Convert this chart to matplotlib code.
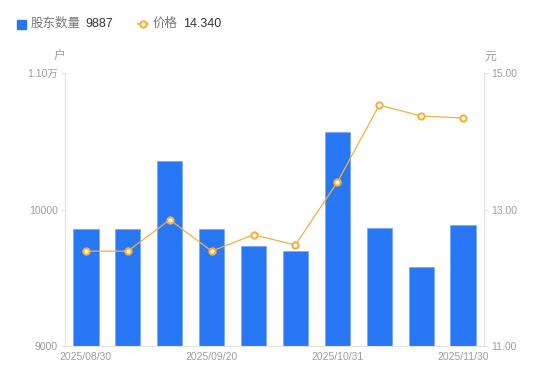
import matplotlib
matplotlib.use("Agg")
import matplotlib.pyplot as plt
from matplotlib.lines import Line2D
from matplotlib.patches import Rectangle

plt.rcParams["font.family"] = ["Liberation Sans", "Noto Sans CJK SC", "DejaVu Sans"]

# ── Dados ─────────────────────────────────────────────────────────────────────
datas = ["2025/08/30", "", "", "2025/09/20", "", "", "2025/10/31", "", "", "2025/11/30"]
acionistas = [9857, 9857, 10355, 9857, 9733, 9696, 10568, 9864, 9579, 9887]
precos = [12.39, 12.39, 12.85, 12.39, 12.63, 12.48, 13.40, 14.53, 14.37, 14.34]

COLORS = {
    "bar": "#2878f5",
    "line": "#f5b03e",
    "tick": "#9a9cab",
    "axis": "#e3e3e6",
    "text": "#333333",
}

fig = plt.figure(figsize=(5.5, 3.81), dpi=100)
ax = fig.add_axes([65 / 550, 1 - 346 / 381, 419 / 550, 273 / 381])
ax2 = ax.twinx()

x = list(range(len(acionistas)))
ax.bar(x, acionistas, width=0.6, color=COLORS["bar"], edgecolor="#7aa9f7", linewidth=0.6, zorder=2)
ax.set_xlim(-0.5, len(x) - 0.5)
ax.set_ylim(9000, 11000)
ax.set_yticks([9000, 10000, 11000])
ax.set_yticklabels(["9000", "10000", "1.10万"])

ax2.plot(x, precos, color=COLORS["line"], linewidth=0.9, marker="o", markersize=4.5,
         markerfacecolor="white", markeredgecolor=COLORS["line"], markeredgewidth=1.5, zorder=3)
ax2.set_ylim(11, 15)
ax2.set_yticks([11, 13, 15])
ax2.set_yticklabels(["11.00", "13.00", "15.00"])

ticks = [i for i, d in enumerate(datas) if d]
ax.set_xticks(ticks)
ax.set_xticklabels([datas[i] for i in ticks])

for a in (ax, ax2):
    for s in a.spines.values():
        s.set_visible(False)
    a.tick_params(colors=COLORS["tick"], labelsize=7.5, length=3, width=0.8)
    a.tick_params(axis="y", labelcolor=COLORS["tick"])
ax.spines["left"].set_visible(True)
ax.spines["left"].set_color(COLORS["axis"])
ax.spines["bottom"].set_visible(True)
ax.spines["bottom"].set_color(COLORS["axis"])
ax2.spines["right"].set_visible(True)
ax2.spines["right"].set_color(COLORS["axis"])
ax.tick_params(axis="x", length=0, pad=4)
ax.tick_params(axis="y", color=COLORS["axis"], pad=2)
ax2.tick_params(axis="y", color=COLORS["axis"], pad=2)
ax2.tick_params(axis="x", length=0)

# unidades
fig.text(59 / 550, 1 - 57 / 381, "户", color=COLORS["tick"], fontsize=8.5, ha="center", va="center")
fig.text(490 / 550, 1 - 57 / 381, "元", color=COLORS["tick"], fontsize=8.5, ha="center", va="center")

# ── Legenda manual ────────────────────────────────────────────────────────────
ly = 1 - 24 / 381
fig.patches.append(Rectangle((17 / 550, ly - 4.5 / 381), 9 / 550, 9 / 381,
                             transform=fig.transFigure, color=COLORS["bar"]))
fig.text(31 / 550, ly, "股东数量", color="#777777", fontsize=9, va="center")
fig.text(85 / 550, ly, "9887", color=COLORS["text"], fontsize=9, va="center")
fig.lines.append(Line2D([138 / 550, 148 / 550], [ly, ly], transform=fig.transFigure,
                        color=COLORS["line"], linewidth=1.2))
fig.lines.append(Line2D([143 / 550], [ly], transform=fig.transFigure, color=COLORS["line"],
                        marker="o", markersize=4.5, markerfacecolor="white",
                        markeredgewidth=1.5, linestyle="none"))
fig.text(153 / 550, ly, "价格", color="#777777", fontsize=9, va="center")
fig.text(183 / 550, ly, "14.340", color=COLORS["text"], fontsize=9, va="center")

fig.savefig("out.png", dpi=100, facecolor="white")
